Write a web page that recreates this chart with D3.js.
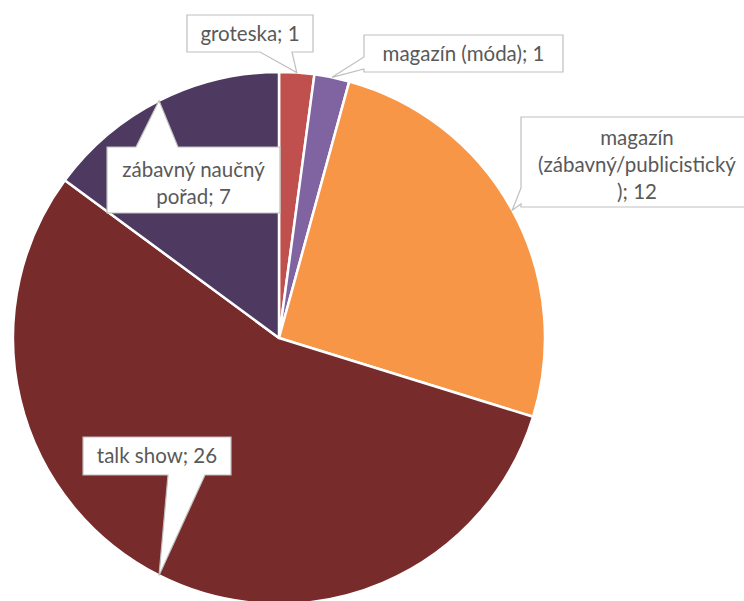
<!DOCTYPE html>
<html>
<head>
<meta charset="utf-8">
<script src="https://cdn.jsdelivr.net/npm/d3@7"></script>
<style>
  body { margin: 0; background: #fff; }
  svg { display: block; }
</style>
</head>
<body>
<script>
'use strict';

// chart data
const categories = ["groteska", "magazín (móda)", "magazín (zábavný/publicistický)", "talk show", "zábavný naučný pořad"];
const values = [1, 1, 12, 26, 7];
const colors = ["#c0504d", "#8064a2", "#f79646", "#772b2a", "#4e3a60"];

(function() {
  const width = 744, height = 601;
  const cx = 279, cy = 338, radius = 266;

  const svg = d3.select('body').append('svg')
    .attr('width', width)
    .attr('height', height);

  const pie = d3.pie().sort(null).value((d) => d.value);
  const arc = d3.arc().innerRadius(0).outerRadius(radius);
  const rows = categories.map((c, i) => ({ cat: c, value: values[i], color: colors[i] }));
  const arcs = pie(rows);

  const g = svg.append('g').attr('transform', `translate(${cx},${cy})`);
  g.selectAll('path')
    .data(arcs)
    .enter()
    .append('path')
      .attr('d', arc)
      .attr('fill', (d) => d.data.color)
      .attr('stroke', '#fff')
      .attr('stroke-width', 2.5)
      .attr('stroke-linejoin', 'round');

  // callout boxes: position, pointer side and base, line breaks (char index)
  const callouts = [
    { x: 187, y: 15, w: 126, h: 37, side: 'bottom', a: 260, b: 292, breaks: [] },
    { x: 364, y: 35, w: 199, h: 37, side: 'left', a: 57, b: 69, breaks: [] },
    { x: 521, y: 117, w: 232, h: 90, side: 'left', a: 188, b: 204, breaks: [8, 30] },
    { x: 83, y: 437, w: 148, h: 38, side: 'bottom', a: 168, b: 205, breaks: [] },
    { x: 107, y: 147, w: 173, h: 66, side: 'top', a: 136, b: 178, breaks: [15] }
  ];

  // tip of pointer on the outer edge at the middle of each slice
  function tip(d) {
    const ang = (d.startAngle + d.endAngle) / 2;
    return [cx + radius * Math.sin(ang), cy - radius * Math.cos(ang)];
  }

  function calloutPath(c, t) {
    const x0 = c.x, y0 = c.y, x1 = c.x + c.w, y1 = c.y + c.h;
    let pts;
    if (c.side === 'bottom') {
      pts = [[x0, y0], [x1, y0], [x1, y1], [c.b, y1], t, [c.a, y1], [x0, y1]];
    } else if (c.side === 'top') {
      pts = [[x0, y0], [c.a, y0], t, [c.b, y0], [x1, y0], [x1, y1], [x0, y1]];
    } else {
      pts = [[x0, y0], [x1, y0], [x1, y1], [x0, y1], [x0, c.b], t, [x0, c.a]];
    }
    return 'M' + pts.map((p) => p.join(',')).join('L') + 'Z';
  }

  function splitLines(text, breaks) {
    const out = [];
    let prev = 0;
    breaks.forEach((b) => { out.push(text.slice(prev, b).trim()); prev = b; });
    out.push(text.slice(prev).trim());
    return out;
  }

  const labels = svg.append('g');
  arcs.forEach((d, i) => {
    const c = callouts[i];
    labels.append('path')
      .attr('d', calloutPath(c, tip(d)))
      .attr('fill', '#fff')
      .attr('stroke', '#bfbfbf')
      .attr('stroke-width', 1.2)
      .attr('stroke-linejoin', 'miter');

    const lines = splitLines(d.data.cat + '; ' + d.data.value, c.breaks);
    const lh = 27;
    const midY = c.y + c.h / 2 + (lines.length > 1 ? 3 : 0);
    const txt = labels.append('text')
      .attr('text-anchor', 'middle')
      .style('font-family', 'Lato, "Open Sans", sans-serif')
      .style('font-size', '20.5px')
      .attr('fill', '#595959');
    lines.forEach((ln, k) => {
      txt.append('tspan')
        .attr('x', c.x + c.w / 2)
        .attr('y', midY + (k - (lines.length - 1) / 2) * lh)
        .attr('dy', '0.35em')
        .text(ln);
    });
  });
})();
</script>
</body>
</html>
